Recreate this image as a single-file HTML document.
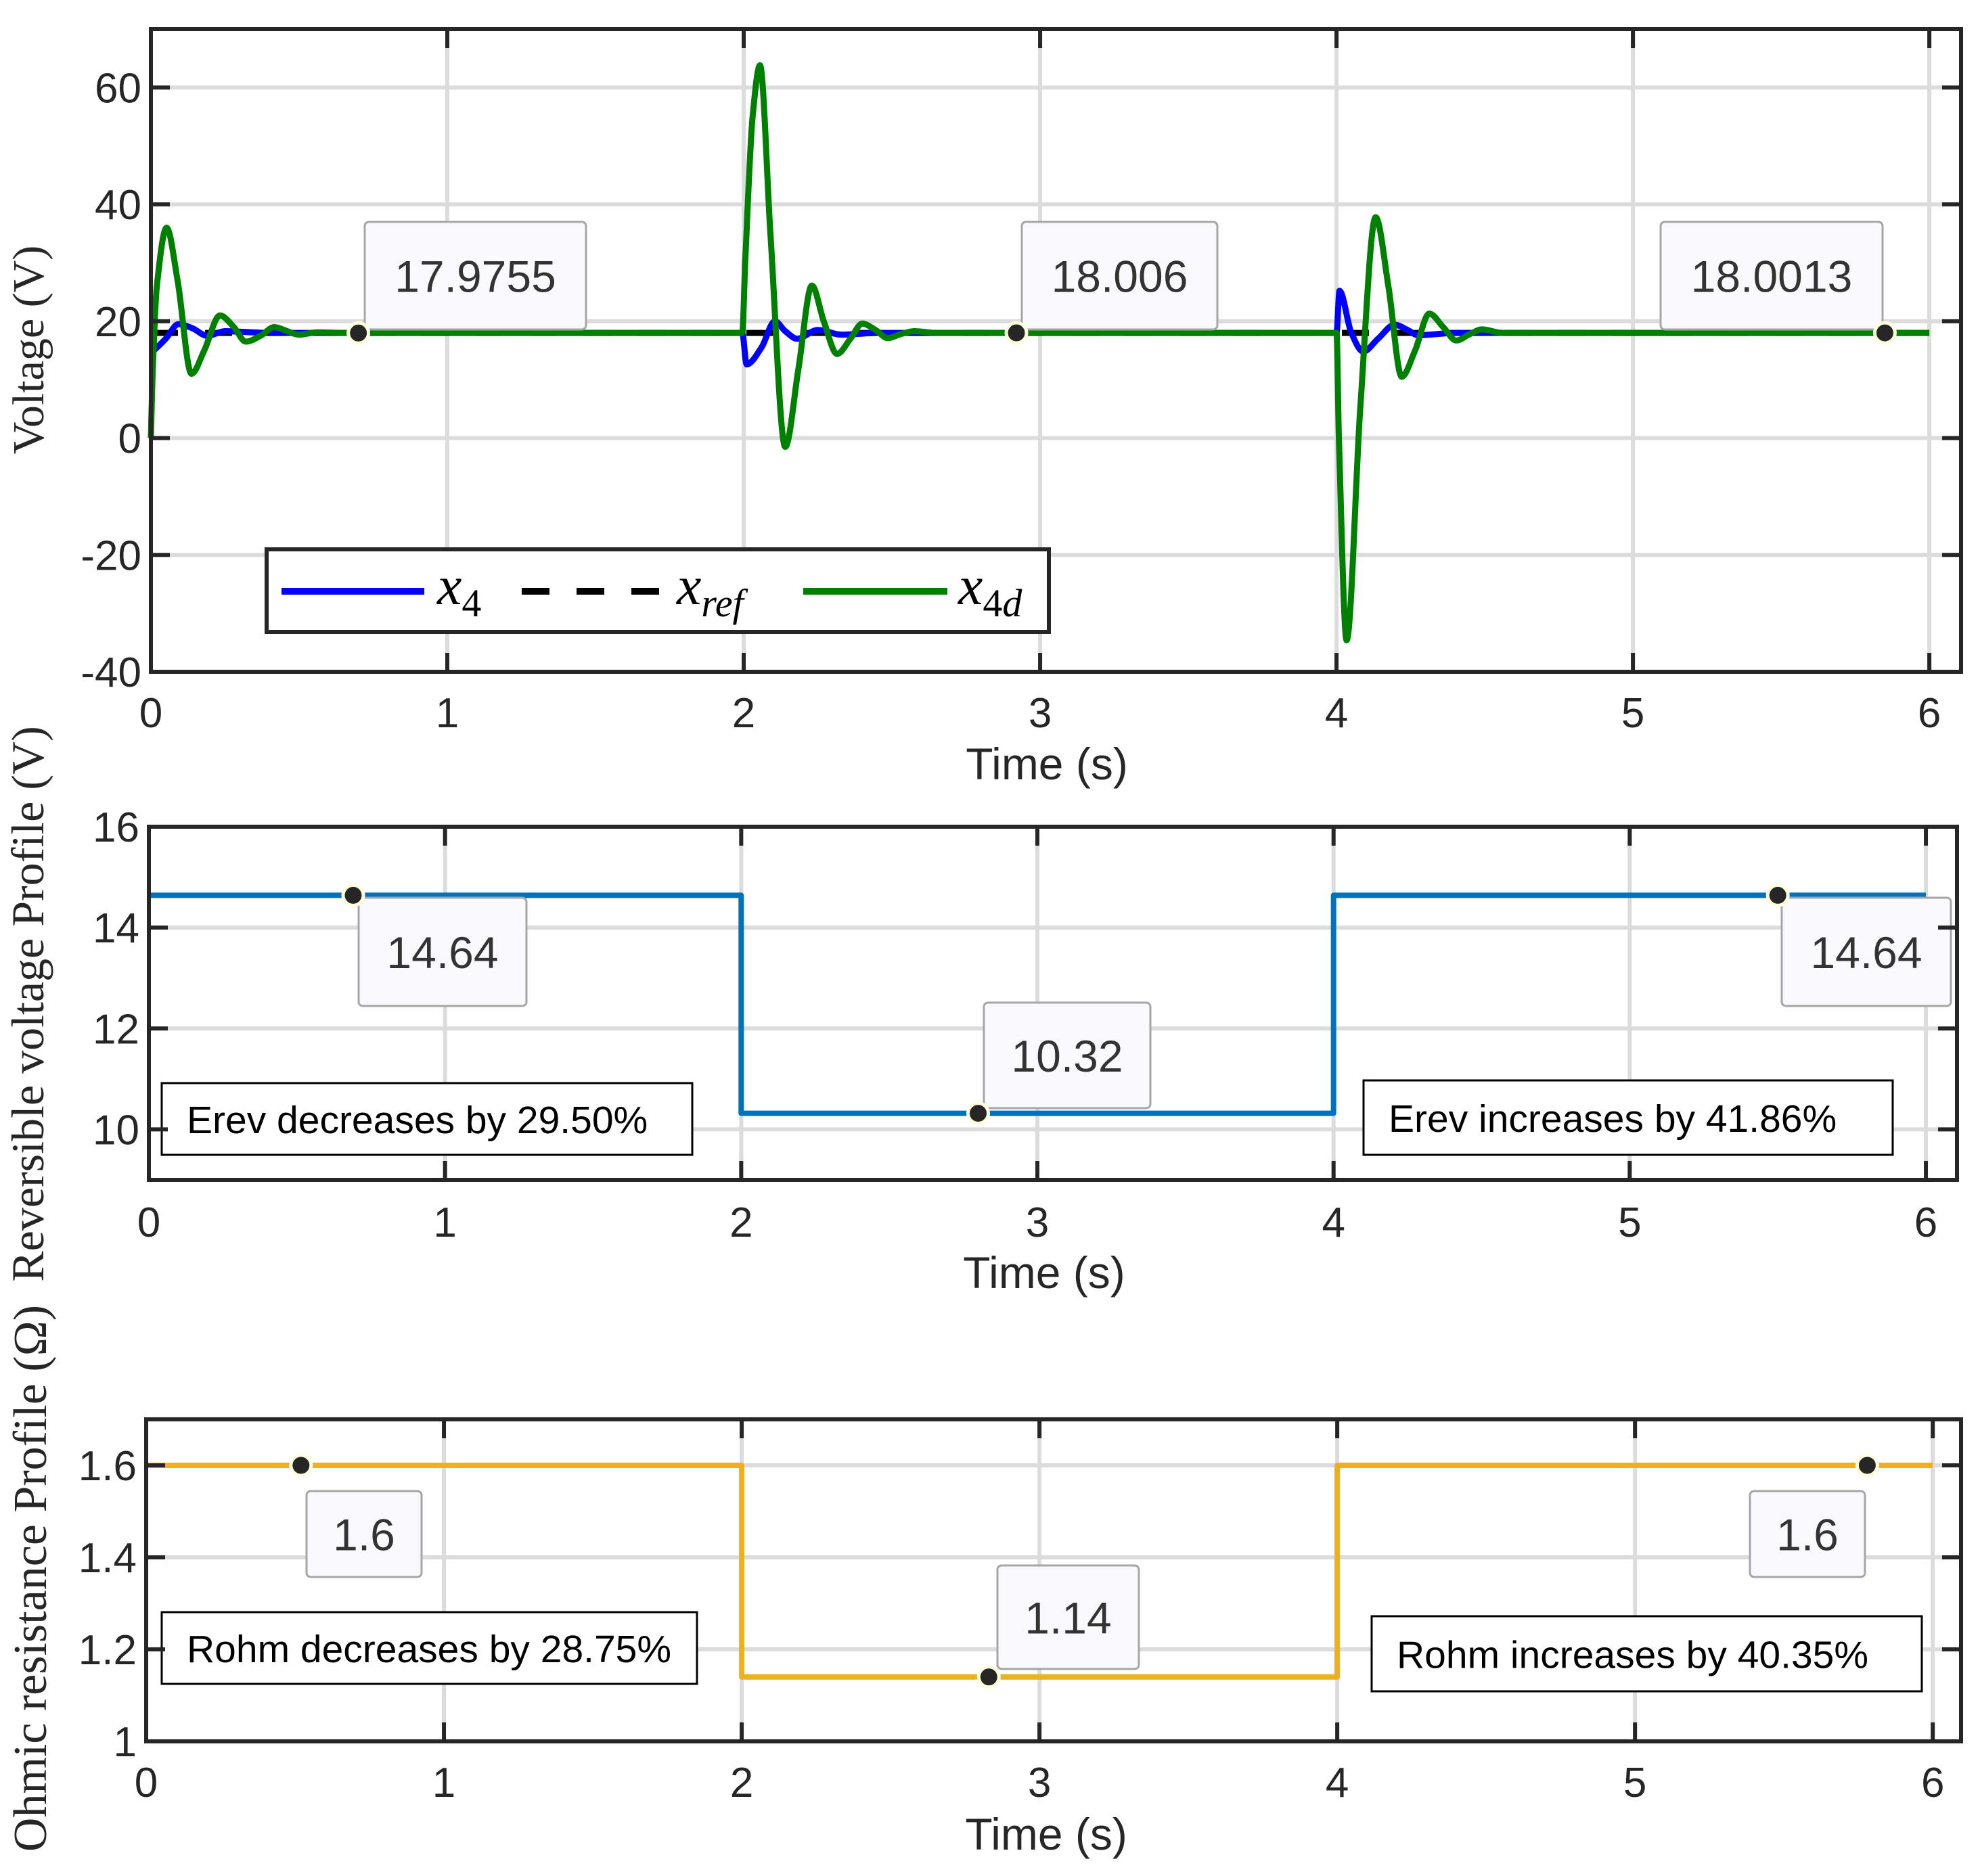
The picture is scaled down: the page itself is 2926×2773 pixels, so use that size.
<!DOCTYPE html>
<html><head><meta charset="utf-8"><style>
html,body{margin:0;padding:0;background:#fff;}
svg{display:block;}
</style></head><body>
<svg id="fig" width="2926" height="2773" viewBox="0 0 2926 2773" xmlns="http://www.w3.org/2000/svg" font-family="Liberation Sans, sans-serif"></svg>
<script>
// ---- data ----
const x4dT = [0,0.005,0.02,0.053,0.09,0.137,0.18,0.233,0.28,0.32,0.37,0.416,0.46,0.5,0.56,0.65,1.0,1.995,2.005,2.03,2.055,2.09,2.14,2.185,2.23,2.27,2.315,2.36,2.40,2.445,2.486,2.53,2.575,2.65,2.8,3.5,4.0,4.008,4.034,4.08,4.132,4.175,4.22,4.265,4.313,4.36,4.404,4.45,4.49,4.56,4.7,5.0,6.0];
const x4dV = [0,10,26,36,27,11,15,21,19,16.5,17.5,19,18.3,17.7,18.1,18,18,18,30,55,63.8,35,-1.5,12,26.1,20,14.4,17,19.6,18.5,17.1,17.8,18.3,18,18,18,18,0,-34.6,5,37.8,26,10.5,15,21.3,19,16.7,17.8,18.6,18,18,18,18];
const x4T = [0,0.05,0.093,0.14,0.19,0.25,0.3,0.4,1.0,1.995,2.01,2.06,2.105,2.14,2.18,2.25,2.33,2.45,3.0,4.0,4.01,4.05,4.09,4.14,4.196,4.24,4.275,4.4,5.0,6.0];
const x4V = [14.5,17,19.5,18.8,17.5,18.3,18.2,18,18,18,12.6,15.5,20,18.3,17,18.5,17.7,18,18,18,25.2,18,14.8,17,19.4,18.5,17.6,18,18,18];
const refT = [0,6];
const refV = [18,18];
const erevT = [0,2,2,4,4,6];
const erevV = [14.64,14.64,10.32,10.32,14.64,14.64];
const rohmT = [0,2,2,4,4,6];
const rohmV = [1.6,1.6,1.14,1.14,1.6,1.6];
const xTicks = [0,1,2,3,4,5,6];
const yTicks1 = [-40,-20,0,20,40,60];
const yTicks2 = [10,12,14,16];
const yTicks3 = [1,1.2,1.4,1.6];
const yTickLabels3 = ["1","1.2","1.4","1.6"];
const tips1T = [0.7,2.92,5.85];
const tips1V = [17.9755,18.006,18.0013];
const tips1L = ["17.9755","18.006","18.0013"];
const tips2T = [0.69,2.8,5.5];
const tips2V = [14.64,10.32,14.64];
const tips2L = ["14.64","10.32","14.64"];
const tips3T = [0.52,2.83,5.78];
const tips3V = [1.6,1.14,1.6];
const tips3L = ["1.6","1.14","1.6"];

const NS="http://www.w3.org/2000/svg";
const svg=document.getElementById('fig');
function el(tag,attrs,parent,txt){const e=document.createElementNS(NS,tag);for(const k in attrs)e.setAttribute(k,attrs[k]);if(txt!==undefined)e.textContent=txt;(parent||svg).appendChild(e);return e;}

function mkAxes(name,L,R,T,B,xmax,ymin,ymax){
  const sx=t=>L+(t/xmax)*(R-L);
  const sy=v=>B-(v-ymin)/(ymax-ymin)*(B-T);
  const g=el('g',{});
  
  
  return {sx,sy,g,L,R,T,B};
}
function grid(ax,yt,ylabels,name){
  const gg=el('g',{},ax.g);
  
  
  xTicks.forEach(t=>{el('line',{x1:ax.sx(t),x2:ax.sx(t),y1:ax.T,y2:ax.B,stroke:'#dcdcdc','stroke-width':6},gg);});
  yt.forEach(v=>{el('line',{x1:ax.L,x2:ax.R,y1:ax.sy(v),y2:ax.sy(v),stroke:'#dcdcdc','stroke-width':6},gg);});
}
function frame(ax,yt,ylabels,name,xlabY,titleY){
  const fg=el('g',{},ax.g);
  
  
  const tl=28;
  xTicks.forEach(t=>{const x=ax.sx(t);
    el('line',{x1:x,x2:x,y1:ax.B,y2:ax.B-tl,stroke:'#262626','stroke-width':6},fg);
    el('line',{x1:x,x2:x,y1:ax.T,y2:ax.T+tl,stroke:'#262626','stroke-width':6},fg);
    const lab=el('text',{x:x,y:xlabY,'font-size':62,'text-anchor':'middle',fill:'#262626'},fg,String(t));
    
    
  });
  yt.forEach((v,i)=>{const y=ax.sy(v);
    el('line',{x1:ax.L,x2:ax.L+tl,y1:y,y2:y,stroke:'#262626','stroke-width':6},fg);
    el('line',{x1:ax.R,x2:ax.R-tl,y1:y,y2:y,stroke:'#262626','stroke-width':6},fg);
    const lab=el('text',{x:ax.L-14,y:y+22,'font-size':62,'text-anchor':'end',fill:'#262626'},fg,ylabels[i]);
    
    
  });
  el('rect',{x:ax.L,y:ax.T,width:ax.R-ax.L,height:ax.B-ax.T,fill:'none',stroke:'#262626','stroke-width':6},fg);
  const xt=el('text',{x:(ax.sx(0)+ax.sx(6))/2+10,y:titleY,'font-size':66,'text-anchor':'middle',fill:'#262626'},fg,'Time (s)');
  
  
}
function monoPath(xs,ys){
  const n=xs.length; if(n<2)return '';
  const d=[],m=new Array(n);
  for(let i=0;i<n-1;i++){const dx=xs[i+1]-xs[i];d.push(dx===0?0:(ys[i+1]-ys[i])/dx);}
  m[0]=d[0];m[n-1]=d[n-2];
  for(let i=1;i<n-1;i++){ if(d[i-1]*d[i]<=0)m[i]=0; else m[i]=2/(1/d[i-1]+1/d[i]); }
  let p='M'+xs[0].toFixed(1)+','+ys[0].toFixed(1);
  for(let i=0;i<n-1;i++){const h=(xs[i+1]-xs[i])/3;
    p+=' C'+(xs[i]+h).toFixed(1)+','+(ys[i]+m[i]*h).toFixed(1)+' '+(xs[i+1]-h).toFixed(1)+','+(ys[i+1]-m[i+1]*h).toFixed(1)+' '+xs[i+1].toFixed(1)+','+ys[i+1].toFixed(1);}
  return p;
}
function series(ax,T,V,color,w,name,dash,smooth){
  const xs=T.map(ax.sx),ys=V.map(ax.sy);
  let d;
  if(smooth)d=monoPath(xs,ys);
  else d='M'+xs.map((x,i)=>x.toFixed(1)+','+ys[i].toFixed(1)).join(' L');
  const a={d:d,fill:'none',stroke:color,'stroke-width':w,'stroke-linejoin':'round'};
  if(dash)a['stroke-dasharray']=dash;
  const p=el('path',a,ax.g);
  
  
}
function tip(ax,t,v,label,bx,by,bw,bh,name){
  const g=el('g',{},ax.g);
  
  
  el('rect',{x:bx,y:by,width:bw,height:bh,rx:6,fill:'#f8f8fd',stroke:'#a6a6a6','stroke-width':3},g);
  el('text',{x:bx+bw/2,y:by+bh/2+24,'font-size':66,'text-anchor':'middle',fill:'#333'},g,label);
  el('circle',{cx:ax.sx(t),cy:ax.sy(v),r:15,fill:'#262626',stroke:'#ffffe0','stroke-width':5},g);
}
function note(parent,x,y,w,h,txt,name){
  const g=el('g',{},parent);
  
  
  el('rect',{x:x,y:y,width:w,height:h,fill:'#fff',stroke:'#000','stroke-width':3},g);
  el('text',{x:x+37,y:y+h/2+21,'font-size':57,fill:'#000'},g,txt);
}
function ytitle(x,y,txt,name,fs){
  const t=el('text',{x:0,y:0,transform:'translate('+x+','+y+') rotate(-90)','font-size':fs,'text-anchor':'middle','font-family':'Liberation Serif, serif',fill:'#262626'},svg,txt);
  
  
}

// ---- panel 1 ----
const a1=mkAxes('voltage-panel',223,2898,43,993,6.107,-40,70);
grid(a1,yTicks1,yTicks1.map(String),'voltage');
series(a1,refT,refV,'#000',9,'x-ref-line','40 40',false);
series(a1,x4T,x4V,'#0000ff',9,'x4-line',null,true);
series(a1,x4dT,x4dV,'#008000',9,'x4d-line',null,true);
tip(a1,tips1T[0],tips1V[0],tips1L[0],539,328,327,159,'datatip-1');
tip(a1,tips1T[1],tips1V[1],tips1L[1],1510,328,289,159,'datatip-2');
tip(a1,tips1T[2],tips1V[2],tips1L[2],2454,328,328,159,'datatip-3');
frame(a1,yTicks1,yTicks1.map(String),'voltage',1075,1152);
// legend
(function(){
  const g=el('g',{});
  
  
  el('rect',{x:394,y:812,width:1156,height:122,fill:'#fff',stroke:'#262626','stroke-width':6},g);
  const ly=874;
  el('line',{x1:416,x2:627,y1:ly,y2:ly,stroke:'#0000ff','stroke-width':10},g);
  el('line',{x1:771,x2:974,y1:ly,y2:ly,stroke:'#000','stroke-width':10,'stroke-dasharray':'41 40'},g);
  el('line',{x1:1187,x2:1400,y1:ly,y2:ly,stroke:'#008000','stroke-width':10},g);
  const ff='Liberation Serif, serif';
  const t1=el('text',{x:646,y:893,'font-size':82,'font-style':'italic','font-family':ff},g);
  el('tspan',{},t1,'x');el('tspan',{'font-size':58,'font-style':'normal',dy:18},t1,'4');
  const t2=el('text',{x:1000,y:893,'font-size':82,'font-style':'italic','font-family':ff},g);
  el('tspan',{},t2,'x');el('tspan',{'font-size':58,dy:18},t2,'ref');
  const t3=el('text',{x:1416,y:893,'font-size':82,'font-style':'italic','font-family':ff},g);
  el('tspan',{},t3,'x');el('tspan',{'font-size':58,dy:18,'font-style':'normal'},t3,'4');el('tspan',{'font-size':58},t3,'d');
})();
ytitle(64,517,'Voltage (V)','voltage-y-title',66);

// ---- panel 2 ----
const a2=mkAxes('erev-panel',220,2892,1222,1744,6.105,9,16);
grid(a2,yTicks2,yTicks2.map(String),'erev');
note(a2.g,239,1601,784,106,'Erev decreases by 29.50%','erev-decrease-note');
note(a2.g,2015,1597,782,110,'Erev increases by 41.86%','erev-increase-note');
series(a2,erevT,erevV,'#0072BD',8,'erev-line',null,false);
tip(a2,tips2T[0],tips2V[0],tips2L[0],530,1327,248,160,'erev-datatip-1');
tip(a2,tips2T[1],tips2V[1],tips2L[1],1454,1482,246,156,'erev-datatip-2');
tip(a2,tips2T[2],tips2V[2],tips2L[2],2633,1327,250,160,'erev-datatip-3');
frame(a2,yTicks2,yTicks2.map(String),'erev',1828,1904);
ytitle(64,1484,'Reversible voltage Profile (V)','erev-y-title',68);

// ---- panel 3 ----
const a3=mkAxes('rohm-panel',216,2898,2098,2574,6.095,1,1.7);
grid(a3,yTicks3,yTickLabels3,'rohm');
note(a3.g,239,2383,791,106,'Rohm decreases by 28.75%','rohm-decrease-note');
note(a3.g,2027,2389,813,111,'Rohm increases by 40.35%','rohm-increase-note');
series(a3,rohmT,rohmV,'#EDB120',8,'rohm-line',null,false);
tip(a3,tips3T[0],tips3V[0],tips3L[0],453,2204,170,127,'rohm-datatip-1');
tip(a3,tips3T[1],tips3V[1],tips3L[1],1474,2314,209,153,'rohm-datatip-2');
tip(a3,tips3T[2],tips3V[2],tips3L[2],2586,2204,170,127,'rohm-datatip-3');
frame(a3,yTicks3,yTickLabels3,'rohm',2656,2734);
ytitle(68,2333,'Ohmic resistance Profile (\u03A9)','rohm-y-title',70);
</script>
</body></html>
